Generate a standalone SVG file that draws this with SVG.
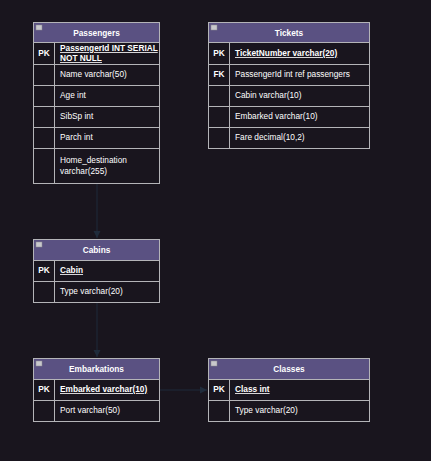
<svg xmlns="http://www.w3.org/2000/svg" width="431" height="461" viewBox="0 0 431 461">
<style>
.hd{fill:#5a5182;stroke:#b4b4b8;stroke-width:1}
.bd{fill:#19151e;stroke:#b4b4b8;stroke-width:1}
.ln{stroke:#b4b4b8;stroke-width:1;fill:none}
.ic{fill:#c8c8cc;stroke:#8a8a90;stroke-width:0.5}
text{font-family:"Liberation Sans",Arial,sans-serif;font-size:8.3px;fill:#ffffff}
.t{font-weight:bold;text-anchor:middle}
.k{font-weight:bold;text-anchor:middle}
.pk{font-weight:bold;text-decoration:underline}
.cn{stroke:#1f2b3b;stroke-width:1;fill:none}
</style>
<defs>
<marker id="ar" markerWidth="8" markerHeight="8" refX="7" refY="4" orient="auto" markerUnits="userSpaceOnUse">
<path d="M0,0.5 L7,4 L0,7.5 Z" fill="#1f2b3b"/>
</marker>
</defs>
<rect width="431" height="461" fill="#19151e"/>
<g id="connectors">
<path class="cn" d="M97,184 V238" marker-end="url(#ar)"/>
<path class="cn" d="M97,302 V357" marker-end="url(#ar)"/>
<path class="cn" d="M160,390 H207" marker-end="url(#ar)"/>
</g>
<g id="passengers">
<rect class="bd" x="33.5" y="22.5" width="126" height="161"/>
<rect class="hd" x="33.5" y="22.5" width="126" height="20"/>
<rect class="ic" x="36" y="25" width="6" height="5"/>
<text class="t" x="96.5" y="35.5">Passengers</text>
<path class="ln" d="M33.5,64.5H159.5M33.5,85.5H159.5M33.5,106.5H159.5M33.5,127.5H159.5M33.5,148.5H159.5M54.5,42.5V183.5"/>
<text class="k" x="44" y="56">PK</text>
<text class="pk" x="60" y="51">PassengerId INT SERIAL</text>
<text class="pk" x="60" y="61">NOT NULL</text>
<text x="60" y="77">Name varchar(50)</text>
<text x="60" y="98">Age int</text>
<text x="60" y="119">SibSp int</text>
<text x="60" y="140">Parch int</text>
<text x="60" y="163">Home_destination</text>
<text x="60" y="174">varchar(255)</text>
</g>
<g id="tickets">
<rect class="bd" x="208.5" y="22.5" width="161" height="126"/>
<rect class="hd" x="208.5" y="22.5" width="161" height="20"/>
<rect class="ic" x="211" y="25" width="6" height="5"/>
<text class="t" x="289" y="35.5">Tickets</text>
<path class="ln" d="M208.5,64.5H369.5M208.5,85.5H369.5M208.5,106.5H369.5M208.5,127.5H369.5M229.5,42.5V148.5"/>
<text class="k" x="219" y="56">PK</text>
<text class="pk" x="235" y="56">TicketNumber varchar(20)</text>
<text class="k" x="219" y="77">FK</text>
<text x="235" y="77">PassengerId int ref passengers</text>
<text x="235" y="98">Cabin varchar(10)</text>
<text x="235" y="119">Embarked varchar(10)</text>
<text x="235" y="140">Fare decimal(10,2)</text>
</g>
<g id="cabins">
<rect class="bd" x="33.5" y="239.5" width="126" height="63"/>
<rect class="hd" x="33.5" y="239.5" width="126" height="21"/>
<rect class="ic" x="36" y="242" width="6" height="5"/>
<text class="t" x="96.5" y="253">Cabins</text>
<path class="ln" d="M33.5,281.5H159.5M54.5,260.5V302.5"/>
<text class="k" x="44" y="273">PK</text>
<text class="pk" x="60" y="273">Cabin</text>
<text x="60" y="294">Type varchar(20)</text>
</g>
<g id="embarkations">
<rect class="bd" x="33.5" y="358.5" width="126" height="63"/>
<rect class="hd" x="33.5" y="358.5" width="126" height="21"/>
<rect class="ic" x="36" y="361" width="6" height="5"/>
<text class="t" x="96.5" y="372">Embarkations</text>
<path class="ln" d="M33.5,400.5H159.5M54.5,379.5V421.5"/>
<text class="k" x="44" y="392">PK</text>
<text class="pk" x="60" y="392">Embarked varchar(10)</text>
<text x="60" y="413">Port varchar(50)</text>
</g>
<g id="classes">
<rect class="bd" x="208.5" y="358.5" width="161" height="63"/>
<rect class="hd" x="208.5" y="358.5" width="161" height="21"/>
<rect class="ic" x="211" y="361" width="6" height="5"/>
<text class="t" x="289" y="372">Classes</text>
<path class="ln" d="M208.5,400.5H369.5M229.5,379.5V421.5"/>
<text class="k" x="219" y="392">PK</text>
<text class="pk" x="235" y="392">Class int</text>
<text x="235" y="413">Type varchar(20)</text>
</g>
</svg>
